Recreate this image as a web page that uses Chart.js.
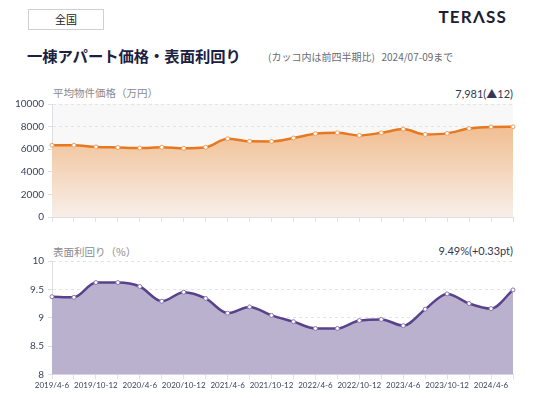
<!DOCTYPE html>
<html>
<head>
<meta charset="utf-8">
<script src="https://cdn.jsdelivr.net/npm/chart.js@4/dist/chart.umd.min.js"></script>
<style>
  body { margin: 0; width: 536px; height: 398px; background: #fff; position: relative; overflow: hidden;
         font-family: Lato, "Noto Sans CJK JP", sans-serif; }
  .abs { position: absolute; white-space: nowrap; }
  #area { left: 28px; top: 9px; width: 74px; height: 19px; border: 1px solid #cfcfd4; font-size: 11px;
          line-height: 19px; text-align: center; color: #222; font-family: "Noto Sans CJK JP"; }
  #logo { right: 29px; top: 6px; font-size: 17px; font-weight: 700; letter-spacing: 1.2px; color: #1d2033;
          font-family: Lato, sans-serif; }
  #title { left: 27px; top: 44px; font-size: 15.3px; font-weight: 700; color: #1b2140; font-family: "Noto Sans CJK JP"; }
  #sub { left: 268px; top: 49px; font-size: 10px; color: #6a6a72; font-family: "Noto Sans CJK JP"; }
  .ctitle { left: 53px; font-size: 10.5px; color: #8a8a90; font-family: "Noto Sans CJK JP"; }
  .cval { right: 23px; font-size: 11px; color: #333955; font-family: Lato, "Noto Sans CJK JP"; }
  canvas { position: absolute; left: 0; }
</style>
</head>
<body>
<div id="area" class="abs">全国</div>
<div id="logo" class="abs">TERΛSS</div>
<div id="title" class="abs">一棟アパート価格・表面利回り</div>
<div id="sub" class="abs">(カッコ内は前四半期比)&nbsp;&nbsp;&nbsp;2024/07-09まで</div>
<div class="abs ctitle" style="top:85px">平均物件価格（万円）</div>
<div class="abs cval" style="top:85px">7,981(▲12)</div>
<div class="abs ctitle" style="top:244px">表面利回り（%）</div>
<div class="abs cval" style="top:244px">9.49%(+0.33pt)</div>
<div style="position:absolute;left:0;top:94px;width:536px;height:133px"><canvas id="price"></canvas></div>
<div style="position:absolute;left:0;top:251px;width:536px;height:140px"><canvas id="yield"></canvas></div>
<script>
const quarters = [
  '2019/4-6', '2019/7-9', '2019/10-12', '2020/1-3', '2020/4-6', '2020/7-9', '2020/10-12', '2021/1-3',
  '2021/4-6', '2021/7-9', '2021/10-12', '2022/1-3', '2022/4-6', '2022/7-9', '2022/10-12', '2023/1-3',
  '2023/4-6', '2023/7-9', '2023/10-12', '2024/1-3', '2024/4-6', '2024/7-9'
];
const priceValues = [
  6350, 6350, 6200, 6150, 6100, 6170, 6080, 6170, 6930, 6700, 6690,
  6990, 7370, 7450, 7220, 7450, 7780, 7310, 7400, 7830, 7969, 7981
];
const yieldValues = [
  9.37, 9.36, 9.62, 9.62, 9.55, 9.29, 9.45, 9.34, 9.08, 9.19, 9.04,
  8.93, 8.81, 8.81, 8.95, 8.97, 8.86, 9.15, 9.42, 9.25, 9.16, 9.49
];
const priceTicks = [0, 2000, 4000, 6000, 8000, 10000];
const yieldTicks = [8, 8.5, 9, 9.5, 10];

const tickFont = { family: 'Lato', size: 10 };
const tickColor = '#3a3f5c';

const plotBg = {
  id: 'plotBg',
  beforeDraw(chart, args, opts) {
    if (!opts.color) return;
    const a = chart.chartArea, ctx = chart.ctx;
    ctx.save();
    ctx.fillStyle = opts.color;
    ctx.fillRect(a.left, a.top, a.right - a.left, a.bottom - a.top);
    ctx.restore();
  }
};

function makeChart(id, values, ticks, min, max, opts) {
  return new Chart(document.getElementById(id), {
    type: 'line',
    data: {
      labels: quarters,
      datasets: [{
        data: values,
        borderColor: opts.line,
        borderWidth: 2.5,
        backgroundColor: opts.fill,
        fill: 'origin',
        cubicInterpolationMode: 'monotone',
        pointRadius: 2,
        pointBackgroundColor: '#fff',
        pointBorderColor: opts.point,
        pointBorderWidth: 1
      }]
    },
    options: {
      responsive: true,
      maintainAspectRatio: false,
      animation: false,
      layout: { padding: { left: 0, right: 23, top: 0, bottom: 0 } },
      plugins: { legend: { display: false }, tooltip: { enabled: false }, plotBg: { color: opts.bg } },
      scales: {
        x: {
          grid: { drawOnChartArea: false, drawTicks: true, tickLength: 5, color: '#e2e2e6' },
          border: { color: '#dddde2' },
          ticks: {
            display: opts.showX,
            autoSkip: false, maxRotation: 0, minRotation: 0, padding: 1,
            font: { family: 'Lato', size: 8 }, color: tickColor,
            callback: (v, i) => i % 2 === 0 ? quarters[i] : ''
          }
        },
        y: {
          min: min, max: max,
          afterBuildTicks: axis => { axis.ticks = ticks.map(v => ({ value: v })); },
          afterFit: axis => { axis.width = 52; },
          grid: { color: '#e4e4e8', tickLength: 4, tickColor: '#dddde2', lineWidth: 1 },
          border: { color: '#dddde2', dash: [3, 3] },
          ticks: { font: tickFont, color: tickColor, padding: 4, callback: v => String(v) }
        }
      }
    },
    plugins: [plotBg]
  });
}

makeChart('price', priceValues, priceTicks, 0, 10000, {
  line: '#e8781e', point: '#f0a060',
  fill: ctx => {
    const a = ctx.chart.chartArea;
    if (!a) return 'rgba(240,180,125,0.8)';
    const g = ctx.chart.ctx.createLinearGradient(0, a.top, 0, a.bottom);
    g.addColorStop(0, '#efb27c');
    g.addColorStop(1, '#f8efe9');
    return g;
  },
  bg: '#f8f8f8', showX: false
});

makeChart('yield', yieldValues, yieldTicks, 8, 10, {
  line: '#5a418c', point: '#8a78b0',
  fill: '#bab1cf', bg: null, showX: true
});
</script>
</body>
</html>
